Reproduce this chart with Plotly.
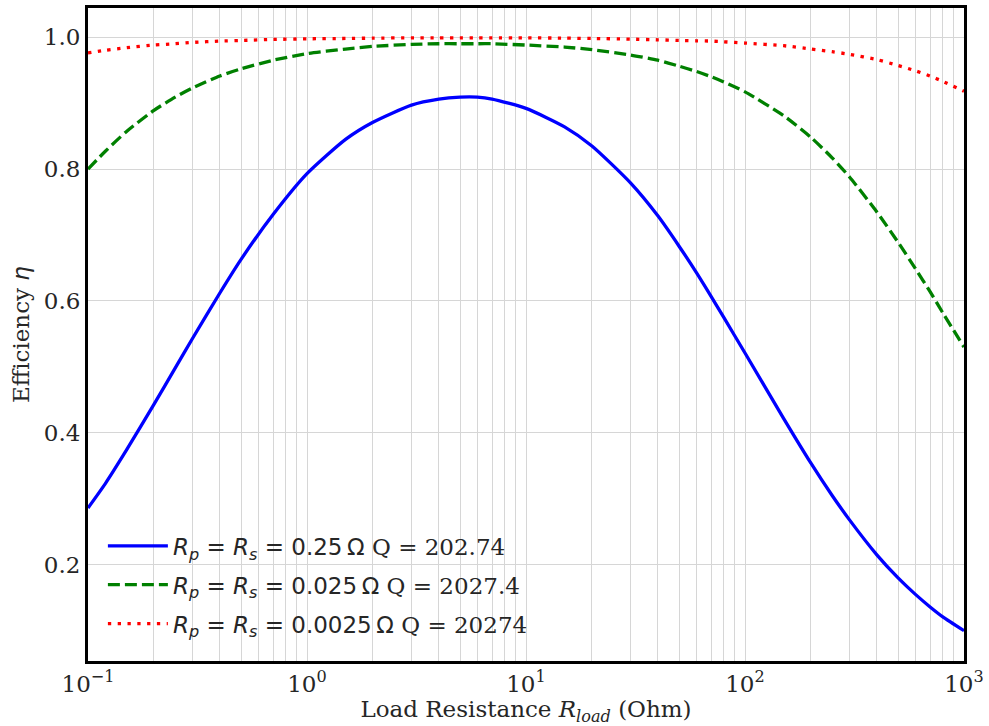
import plotly.graph_objects as go

# Load resistance sample points (Ohm)
r_load = [0.1, 0.12, 0.15, 0.2, 0.25, 0.3, 0.4, 0.5, 0.7, 1, 1.5, 2, 3, 4, 5, 6, 7,
          10, 15, 20, 30, 40, 50, 60, 70, 80, 100, 150, 200, 250, 300, 400, 500,
          600, 700, 800, 1000]

# Efficiency for each coil resistance
eta_025 = [0.286, 0.323, 0.374, 0.443, 0.498, 0.543, 0.612, 0.663, 0.731, 0.793,
           0.845, 0.871, 0.897, 0.906, 0.909, 0.909, 0.906, 0.892, 0.864, 0.835,
           0.779, 0.729, 0.683, 0.643, 0.607, 0.575, 0.521, 0.422, 0.354, 0.305,
           0.268, 0.215, 0.180, 0.155, 0.136, 0.121, 0.100]
eta_0025 = [0.800, 0.827, 0.857, 0.889, 0.909, 0.923, 0.941, 0.952, 0.965, 0.975,
            0.982, 0.986, 0.989, 0.990, 0.990, 0.990, 0.990, 0.988, 0.985, 0.981,
            0.973, 0.965, 0.956, 0.948, 0.940, 0.932, 0.917, 0.881, 0.848, 0.817,
            0.788, 0.735, 0.689, 0.649, 0.614, 0.582, 0.530]
eta_00025 = [0.976, 0.980, 0.984, 0.988, 0.990, 0.992, 0.994, 0.995, 0.9965, 0.9975,
             0.998, 0.9985, 0.999, 0.999, 0.999, 0.999, 0.999, 0.999, 0.9985, 0.998,
             0.997, 0.996, 0.995, 0.9945, 0.994, 0.993, 0.991, 0.987, 0.982, 0.978,
             0.974, 0.966, 0.957, 0.949, 0.941, 0.933, 0.918]

labels = ["0.25\u2009Ω", "0.025\u2009Ω", "0.0025\u2009Ω"]
q_values = ["202.74", "2027.4", "20274"]

x_tick_vals = [0.1, 1, 10, 100, 1000]
x_tick_text = ["10<sup>−1</sup>", "10<sup>0</sup>", "10<sup>1</sup>",
               "10<sup>2</sup>", "10<sup>3</sup>"]
y_tick_vals = [0.2, 0.4, 0.6, 0.8, 1.0]

SERIF = "DejaVu Serif"
SANS = "DejaVu Sans"
TEXT = "#262626"
GRID = "#d6d6d6"
FS = 23


def legend_name(res, q):
    return (f'<span style="font-family:{SANS}"><i>R</i><sub><i>p</i></sub> = '
            f'<i>R</i><sub><i>s</i></sub> = {res}</span> Q = {q}')


series = [
    (eta_025, "#0000ff", "solid"),
    (eta_0025, "#008000", "12px,5px"),
    (eta_00025, "#ff0000", "3.3px,6.5px"),
]

fig = go.Figure()
for i, (vals, color, dash) in enumerate(series):
    fig.add_trace(go.Scatter(
        x=r_load, y=vals, mode="lines",
        line=dict(color=color, width=3.3, dash=dash, shape="spline", smoothing=0.6),
        name=legend_name(labels[i], q_values[i]),
        legendgroup=f"g{i}",
    ))

fig.update_layout(
    width=989, height=726,
    margin=dict(l=88, r=22, t=5, b=65),
    paper_bgcolor="white", plot_bgcolor="white",
    font=dict(family=SERIF, size=FS, color=TEXT),
    showlegend=True,
    legend=dict(
        x=0.017, y=0.024, xanchor="left", yanchor="bottom",
        bgcolor="rgba(0,0,0,0)", borderwidth=0,
        font=dict(family=SERIF, size=FS, color=TEXT),
        tracegroupgap=6, itemwidth=60,
    ),
)

fig.update_xaxes(
    type="log", range=[-1, 3],
    tickvals=x_tick_vals, ticktext=x_tick_text,
    showgrid=True, gridcolor=GRID, gridwidth=1,
    minor=dict(dtick="D1", showgrid=True, gridcolor=GRID, gridwidth=1, ticks=""),
    showline=True, linecolor="black", linewidth=3, mirror=True,
    ticks="", zeroline=False,
    tickfont=dict(family=SERIF, size=FS, color=TEXT),
    title=dict(text="Load Resistance <i>R</i><sub><i>load</i></sub> (Ohm)",
               font=dict(family=SERIF, size=FS, color=TEXT), standoff=0),
)
fig.update_yaxes(
    range=[0.054, 1.0442],
    tickvals=y_tick_vals, tickformat=".1f",
    showgrid=True, gridcolor=GRID, gridwidth=1,
    showline=True, linecolor="black", linewidth=3, mirror=True,
    ticks="", zeroline=False,
    tickfont=dict(family=SERIF, size=FS, color=TEXT),
    title=dict(text=f'Efficiency <span style="font-family:{SANS}"><i>η</i></span>',
               font=dict(family=SERIF, size=FS, color=TEXT), standoff=8),
)

fig.write_html("out.html")
